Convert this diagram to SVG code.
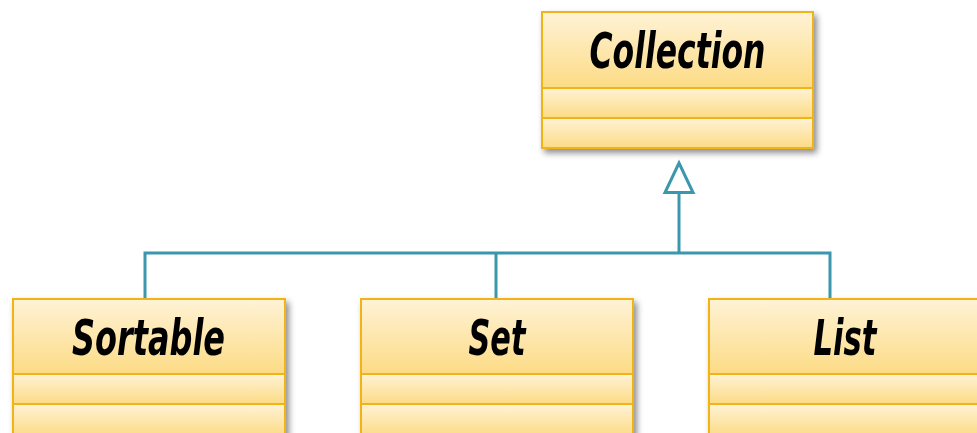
<svg xmlns="http://www.w3.org/2000/svg" width="977" height="433" viewBox="0 0 977 433">
  <defs>
    <linearGradient id="compFill" x1="0" y1="0" x2="0" y2="1">
      <stop offset="0" stop-color="#fff3d6"/>
      <stop offset="1" stop-color="#fcdb85"/>
    </linearGradient>
    <filter id="shadow" x="-10%" y="-10%" width="125%" height="130%">
      <feDropShadow dx="3" dy="4" stdDeviation="3" flood-color="#000" flood-opacity="0.45"/>
    </filter>
    <style>
      .comp { fill: url(#compFill); stroke: #f2b316; stroke-width: 2; }
      .name { font-family: "DejaVu Sans Condensed", "DejaVu Sans", sans-serif; font-weight: bold; font-style: italic; font-size: 49px; fill: #000; text-anchor: middle; }
      .edge { fill: none; stroke: #3b97ad; stroke-width: 3; }
      .head { fill: #fff; stroke: #3b97ad; stroke-width: 3; stroke-linejoin: miter; }
    </style>
  </defs>

  <g id="collection" filter="url(#shadow)">
    <rect class="comp" x="542" y="12" width="271" height="76"/>
    <rect class="comp" x="542" y="88" width="271" height="30"/>
    <rect class="comp" x="542" y="118" width="271" height="30"/>
    <text class="name" x="677.5" y="68" textLength="176" lengthAdjust="spacingAndGlyphs">Collection</text>
  </g>

  <g id="sortable" filter="url(#shadow)">
    <rect class="comp" x="13" y="299" width="272" height="75"/>
    <rect class="comp" x="13" y="374" width="272" height="30"/>
    <rect class="comp" x="13" y="404" width="272" height="32"/>
    <text class="name" x="148.5" y="355" textLength="153" lengthAdjust="spacingAndGlyphs">Sortable</text>
  </g>

  <g id="set" filter="url(#shadow)">
    <rect class="comp" x="361" y="299" width="272" height="75"/>
    <rect class="comp" x="361" y="374" width="272" height="30"/>
    <rect class="comp" x="361" y="404" width="272" height="32"/>
    <text class="name" x="497" y="355" textLength="57" lengthAdjust="spacingAndGlyphs">Set</text>
  </g>

  <g id="list" filter="url(#shadow)">
    <rect class="comp" x="709" y="299" width="272" height="75"/>
    <rect class="comp" x="709" y="374" width="272" height="30"/>
    <rect class="comp" x="709" y="404" width="272" height="32"/>
    <text class="name" x="845" y="355" textLength="63" lengthAdjust="spacingAndGlyphs">List</text>
  </g>

  <g id="connectors">
    <path class="edge" d="M145 298 V253 H830 V298"/>
    <path class="edge" d="M496 253 V298"/>
    <path class="edge" d="M679 253 V193"/>
    <polygon class="head" points="679,163 693,192.5 665,192.5"/>
  </g>
</svg>
